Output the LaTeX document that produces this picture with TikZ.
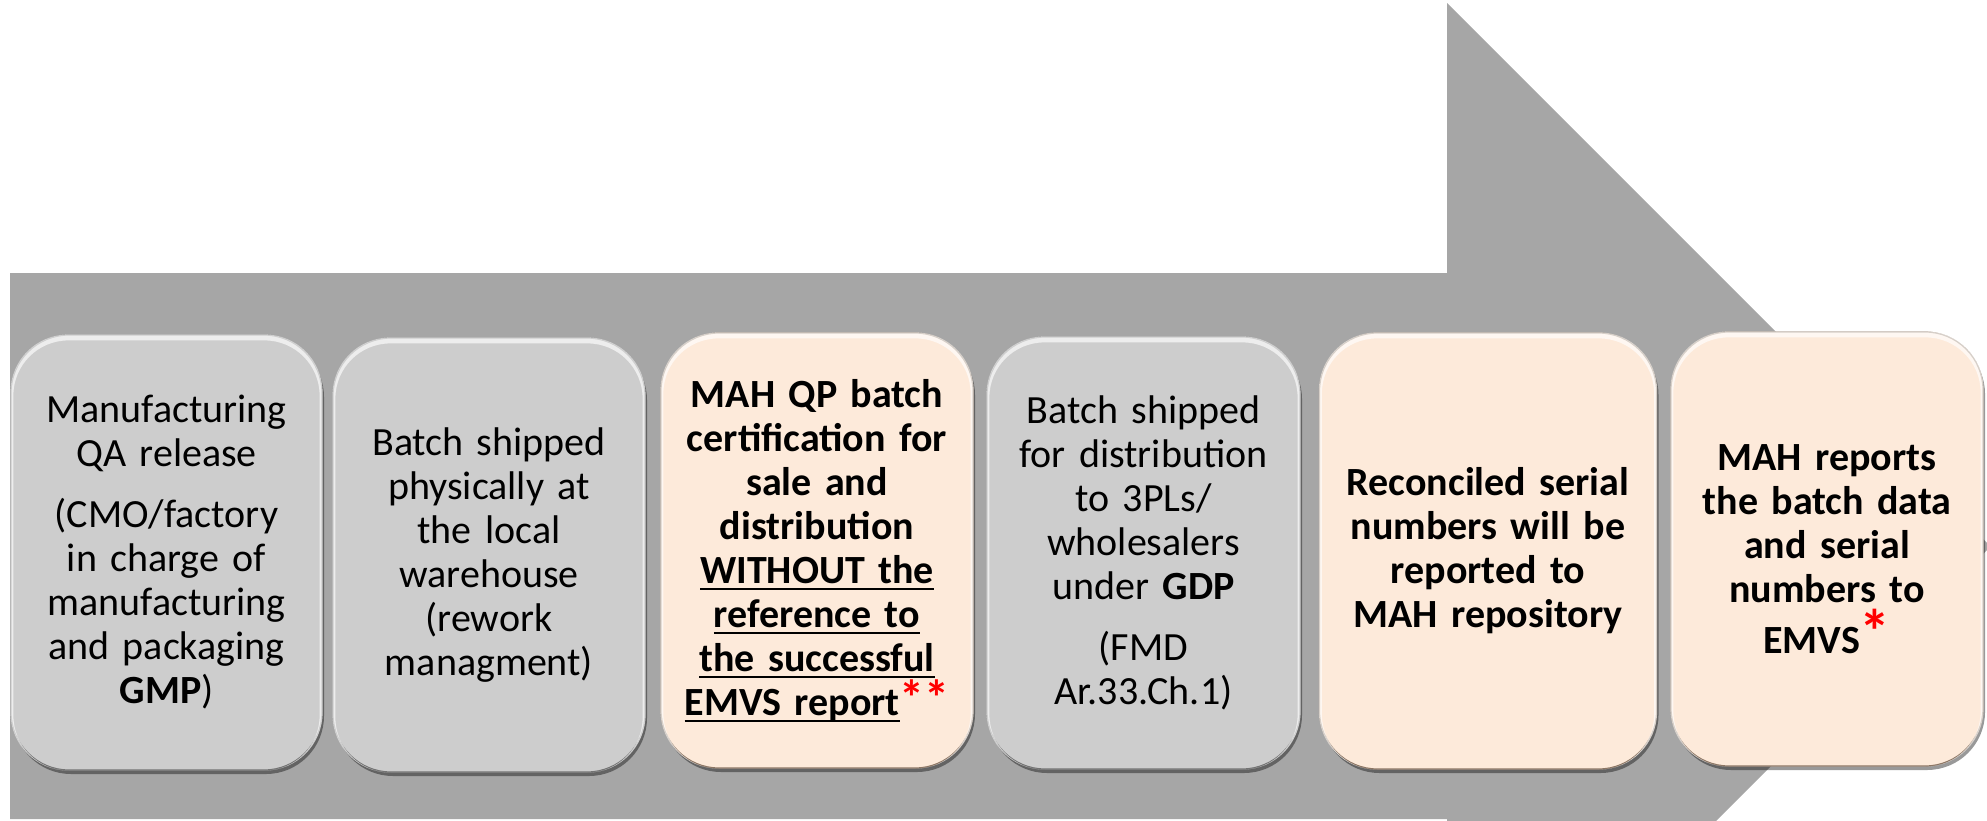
\documentclass[tikz,border=0pt]{standalone}
\usepackage{fontspec}
\setmainfont{Carlito}
\usetikzlibrary{shadows}
\definecolor{arrowgray}{RGB}{166,166,166}
\definecolor{boxgray}{RGB}{205,205,205}
\definecolor{peach}{RGB}{253,234,218}
\definecolor{grayedge}{RGB}{115,115,115}
\definecolor{peachedge}{RGB}{140,118,100}
\newcommand\myul[1]{\leavevmode\setbox0\hbox{#1}\rlap{\rule[-7pt]{\wd0}{2pt}}\box0}
\newcommand\rstar[1]{\textcolor{red}{#1}}
\newcommand\bevel[1]{%
  \begin{scope}
    \clip[rounded corners=58pt] (#1.north west) rectangle (#1.south east);
    \draw[white, opacity=.65, line width=6pt, rounded corners=58pt]
      ([yshift=-3pt]#1.north west) rectangle ([yshift=-3pt]#1.south east);
  \end{scope}}
\begin{document}
\begin{tikzpicture}[x=1pt,y=-1pt,
  stepbox/.style={rounded corners=58pt, line width=1.2pt, align=center,
    inner sep=4pt, font=\fontsize{40}{44}\selectfont,
    drop shadow={shadow xshift=2pt, shadow yshift=-4pt, opacity=.4, fill=black}},
  graybox/.style={stepbox, fill=boxgray, draw=grayedge},
  peachbox/.style={stepbox, fill=peach, draw=peachedge},
]
\useasboundingbox (0,0) rectangle (1987,820);
\clip (0,0) rectangle (1987,820);
\fill[arrowgray] (10,273) -- (1447,273) -- (1447,3) -- (1990.5,546.5)
  -- (1447,1090) -- (1447,819) -- (10,819) -- cycle;

\node[graybox, minimum width=311pt, minimum height=435pt, text width=300pt] (b1) at (166.5,552.5)
  {Manufacturing\\QA release\\[17pt](CMO/factory\\in charge of\\manufacturing\\and packaging\\\textbf{GMP})};
\node[graybox, minimum width=312pt, minimum height=434pt, text width=300pt] (b2) at (489,555)
  {Batch shipped\\physically at\\the local\\warehouse\\(rework\\managment)};
\node[peachbox, minimum width=312pt, minimum height=435pt, text width=300pt] (b3) at (817,550.5)
  {\bfseries MAH QP batch\\certification for\\sale and\\distribution\\\myul{WITHOUT the}\\\myul{reference to}\\\myul{the successful}\\\myul{EMVS report}\rstar{\fontsize{50}{44}\selectfont **}};
\node[graybox, minimum width=313pt, minimum height=432pt, text width=300pt] (b4) at (1143.5,553)
  {Batch shipped\\for distribution\\to 3PLs/\\wholesalers\\under \textbf{GDP}\\[17pt](FMD\\Ar.33.Ch.1)};
\node[peachbox, minimum width=337pt, minimum height=436pt, text width=325pt] (b5) at (1488,551)
  {\bfseries Reconciled serial\\numbers will be\\reported to\\MAH repository};
\node[peachbox, minimum width=312pt, minimum height=434pt, text width=300pt] (b6) at (1827,549)
  {\bfseries MAH reports\\the batch data\\and serial\\numbers to\\[6pt]EMVS\rstar{\fontsize{62}{56}\selectfont *}};

\bevel{b1}\bevel{b2}\bevel{b3}\bevel{b4}\bevel{b5}\bevel{b6}
\end{tikzpicture}
\end{document}
